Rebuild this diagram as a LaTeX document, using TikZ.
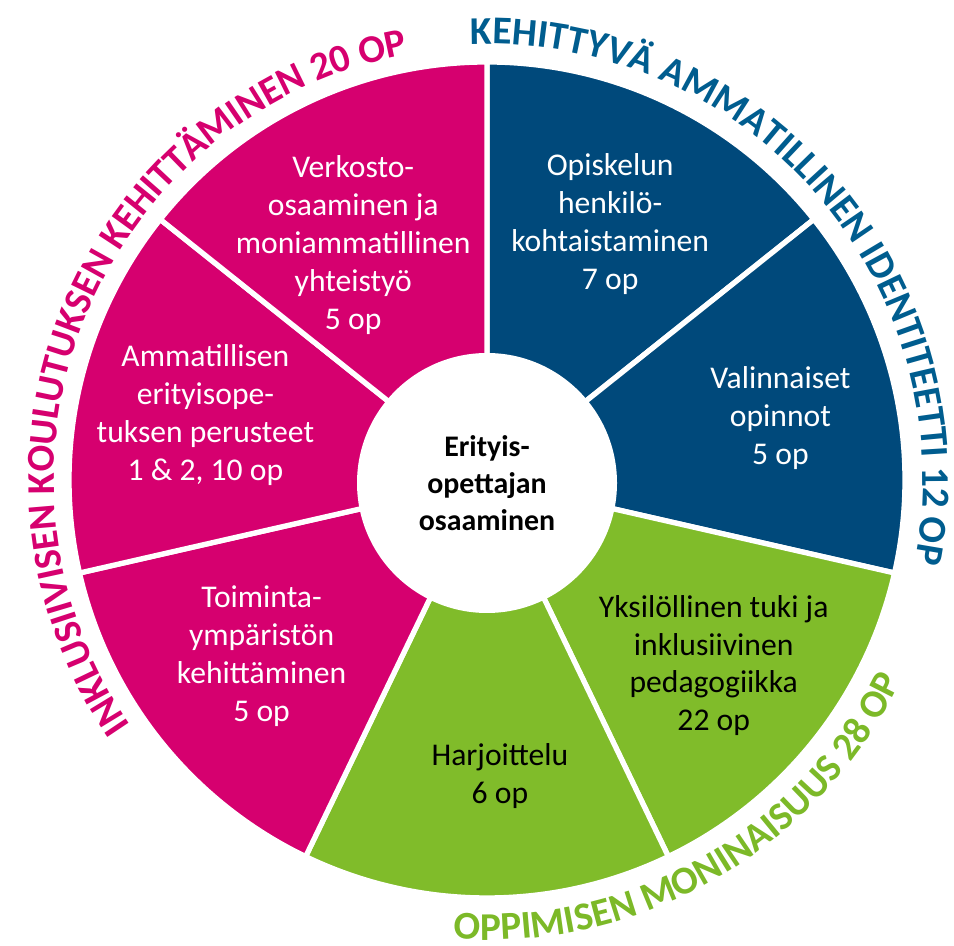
\documentclass[tikz,border=0pt]{standalone}
\usepackage{fontspec}
\setmainfont{Carlito}
\usetikzlibrary{decorations.text}
\definecolor{pinkki}{HTML}{D6006F}
\definecolor{sininen}{HTML}{00497B}
\definecolor{vihrea}{HTML}{80BC2A}
\definecolor{otsikkosininen}{HTML}{005D8F}
\definecolor{otsikkovihrea}{HTML}{7CB928}
\newcommand{\otsikko}{\fontsize{11.2}{13}\selectfont\bfseries}
\tikzset{
	lohko/.style={align=center, inner sep=0pt, font=\fontsize{9}{10.8}\selectfont},
	keskusta/.style={circle, fill=white, minimum size=2.6cm, align=center, font=\bfseries\fontsize{8.5}{10.5}\selectfont}
}
\begin{document}
\begin{tikzpicture}[line join=round, line cap=round]
	\useasboundingbox (-4.87,-4.65) rectangle (4.67,4.80);
	\foreach \i/\c in {0/sininen,1/sininen,2/vihrea,3/vihrea,4/pinkki,5/pinkki,6/pinkki}
		\filldraw[fill=\c, draw=white, line width=1.5pt] (0,0) -- ({90-\i*360/7}:4.18) arc[start angle={90-\i*360/7}, delta angle=-360/7, radius=4.18] -- cycle;
	\node[keskusta] (keskus) at (0,-0.03) {Erityis-\\opettajan\\osaaminen};
	\node[lohko, text=white] (opiskelu) at (64.3:2.84) {Opiskelun\\henkilö-\\kohtaistaminen\\7 op};
	\node[lohko, text=white] (valinnaiset) at (12:3.0) {Valinnaiset\\opinnot\\5 op};
	\node[lohko] (yksilollinen) at (-39.3:2.93) {Yksilöllinen tuki ja\\inklusiivinen\\pedagogiikka\\22 op};
	\node[lohko] (harjoittelu) at (-87.5:2.96) {Harjoittelu\\6 op};
	\node[lohko, text=white] (toiminta) at (218:2.86) {Toiminta-\\ympäristön\\kehittäminen\\5 op};
	\node[lohko, text=white] (perusteet) at (167:2.89) {Ammatillisen\\erityisope-\\tuksen perusteet\\1 \& 2, 10 op};
	\node[lohko, text=white] (verkosto) at (119.7:2.70) {Verkosto-\\osaaminen ja\\moniammatillinen\\yhteistyö\\5 op};
	\path[decorate, decoration={text along path, text align=center, text color=pinkki, text={|\otsikko|INKLUSIIVISEN KOULUTUKSEN KEHITTÄMINEN 20 OP}}] (237.5:4.33) arc[start angle=237.5, end angle=77.5, radius=4.33];
	\path[decorate, decoration={text along path, text align=center, text color=otsikkosininen, text={|\otsikko|KEHITTYVÄ AMMATILLINEN IDENTITEETTI 12 OP}}] (120.6:4.36) arc[start angle=120.6, end angle=-39.4, radius=4.36];
	\path[decorate, decoration={text along path, text align=center, text color=otsikkovihrea, text={|\otsikko|OPPIMISEN MONINAISUUS 28 OP}}] (-140:4.60) arc[start angle=-140, end angle=20, radius=4.60];
\end{tikzpicture}
\end{document}
